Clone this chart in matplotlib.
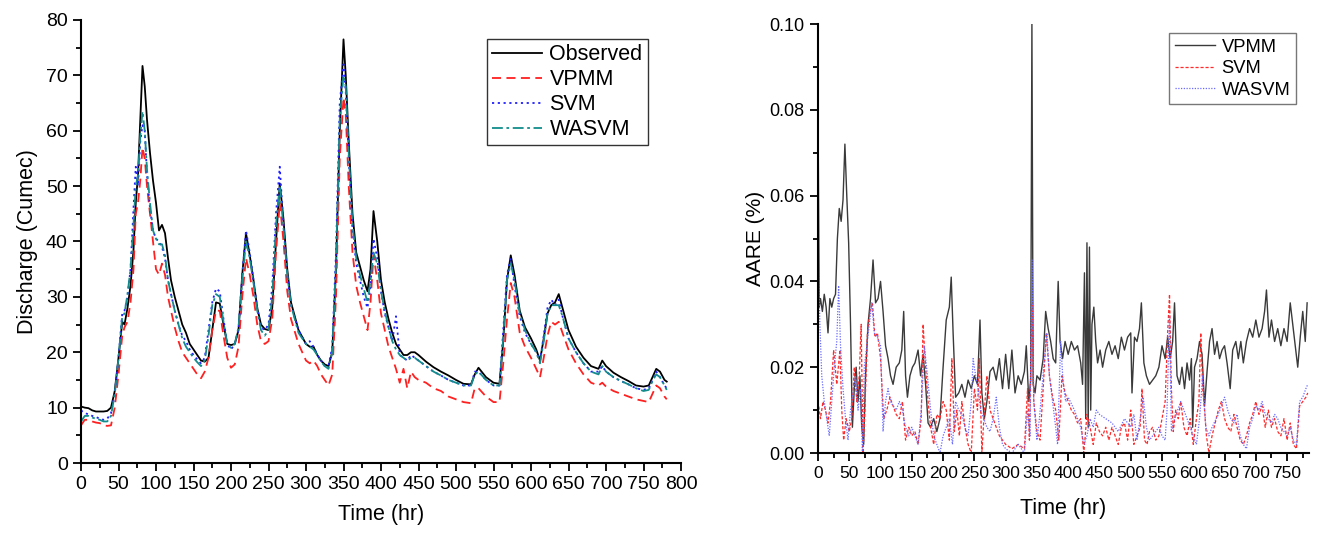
import numpy as np
import matplotlib
matplotlib.use("Agg")
import matplotlib.pyplot as plt
from matplotlib.ticker import MultipleLocator

plt.rcParams['font.family'] = ['Liberation Sans', 'DejaVu Sans']

# ---- left panel: discharge ----
t_left = [0, 5, 10, 15, 20, 25, 30, 35, 40, 45,
          50, 55, 58, 62, 66, 70, 73, 76, 79, 82,
          85, 88, 92, 96, 100, 104, 108, 112, 116, 120,
          125, 130, 135, 140, 145, 150, 155, 160, 165, 170,
          175, 180, 185, 190, 195, 200, 205, 210, 215, 220,
          225, 230, 235, 240, 245, 250, 255, 260, 265, 270,
          275, 280, 290, 300, 305, 310, 315, 320, 325, 330,
          335, 340, 345, 350, 353, 357, 362, 367, 372, 377,
          382, 386, 390, 395, 400, 405, 410, 415, 420, 425,
          430, 435, 440, 445, 450, 460, 470, 480, 490, 500,
          510, 520, 525, 530, 540, 550, 558, 563, 568, 573,
          578, 585, 592, 600, 607, 612, 617, 622, 627, 632,
          637, 642, 650, 660, 670, 680, 690, 695, 700, 710,
          720, 730, 740, 750, 757, 762, 767, 772, 778, 781]

observed = [10.2, 10.0, 9.9, 9.5, 9.3, 9.3, 9.3, 9.4, 10.0, 13.0,
            19.0, 25.5, 25.0, 28.0, 32.0, 38.5, 47.0, 52.0, 62.0, 71.7,
            68.0, 62.0, 56.0, 51.0, 47.0, 42.0, 43.0, 41.5, 37.0, 33.0,
            30.0, 27.5, 25.0, 23.5, 21.5, 20.5, 19.5, 18.5, 18.3, 19.0,
            24.0, 29.0, 28.8, 25.0, 21.5, 21.3, 21.5, 24.0, 34.0, 41.5,
            37.5, 33.0, 28.0, 25.0, 24.2, 24.0, 28.0, 40.0, 50.5, 44.0,
            35.0, 29.0, 24.0, 21.5, 21.0, 21.0, 19.5, 18.5, 17.8, 17.5,
            20.0, 35.0, 60.0, 76.5, 70.0, 58.0, 45.0, 38.0, 35.5, 33.0,
            31.0, 35.0, 45.5, 40.0, 33.0, 29.0, 26.0, 23.5, 21.5, 20.5,
            19.5, 19.5, 20.0, 20.0, 19.5, 18.3, 17.3, 16.5, 15.8, 15.0,
            14.3, 14.2, 16.0, 17.2, 15.5, 14.5, 14.3, 22.0, 33.0, 37.5,
            34.0, 27.5, 24.5, 22.5, 20.5, 18.5, 22.5, 27.0, 28.5, 29.0,
            30.5, 28.0, 24.0, 21.0, 19.0, 17.5, 17.0, 18.5, 17.5, 16.3,
            15.5, 14.8, 14.0, 13.8, 14.0, 15.5, 17.0, 16.5, 15.0, 14.7]

vpmm = [6.8, 7.8, 7.8, 7.5, 7.3, 7.2, 6.8, 6.7, 6.8, 10.0,
        16.0, 23.0, 24.5, 25.5, 29.0, 35.0, 45.0, 47.0, 51.0, 57.0,
        55.0, 50.0, 45.0, 40.0, 35.0, 34.0, 36.0, 34.0, 30.0, 27.5,
        24.5, 22.0, 20.0, 19.0, 18.0, 17.0, 16.0, 15.3, 16.5, 19.0,
        24.0, 27.5, 27.5, 23.0, 19.0, 17.2, 17.8, 21.0, 30.0, 37.0,
        34.0, 30.0, 25.0, 22.0, 21.5, 22.0, 26.0, 38.0, 47.0, 40.0,
        31.0, 26.0, 21.5, 18.5, 18.0, 18.5, 17.5, 16.0, 15.0, 14.0,
        16.0, 30.0, 55.0, 66.0, 63.0, 50.0, 38.0, 32.0, 29.0, 26.5,
        24.0, 29.0, 37.5, 33.0, 27.0, 24.0, 21.0, 19.0, 17.0, 14.5,
        17.0, 13.5, 16.5, 15.5, 15.0, 14.5, 13.5, 13.0, 12.0, 11.5,
        11.0, 10.8, 13.5, 13.5, 12.0, 11.0, 11.0, 18.0, 26.0, 32.5,
        30.0, 23.5, 21.0, 19.0, 17.0, 15.5, 19.0, 23.0, 25.5, 25.0,
        25.5, 23.5, 20.5, 18.0, 16.0, 14.5, 14.0, 14.5, 13.8, 13.0,
        12.5, 12.0, 11.5, 11.2, 11.0, 12.5, 14.0, 13.5, 12.0, 11.5]

svm = [9.5, 9.0, 8.8, 8.5, 8.3, 8.0, 7.8, 8.0, 9.0, 12.5,
       19.0, 27.0, 27.5, 30.0, 35.0, 46.0, 53.5, 50.0, 58.0, 61.0,
       60.0, 52.0, 46.0, 42.0, 40.5, 40.0, 39.0, 37.0, 33.0, 30.5,
       27.5, 25.0, 23.0, 22.0, 20.5, 19.5, 18.7, 18.0, 19.0, 24.0,
       29.0, 31.5, 31.0, 26.0, 21.5, 20.5, 21.5, 24.0, 34.0, 42.0,
       38.0, 33.0, 28.0, 24.5, 24.0, 25.0, 32.0, 45.0, 53.5, 43.0,
       34.0, 28.5, 24.0, 21.5, 22.0, 21.0, 19.5, 18.5, 17.5, 17.5,
       21.0, 38.0, 65.0, 72.0, 67.0, 55.0, 42.0, 36.0, 33.0, 30.0,
       28.0, 32.0, 40.5, 37.0, 31.0, 27.0, 24.5, 22.0, 26.5, 19.5,
       19.0, 18.5, 19.5, 19.0, 18.5, 17.5, 16.5, 15.8, 15.0, 14.5,
       14.0, 14.0, 16.5, 16.5, 15.0, 14.0, 14.0, 24.0, 34.0, 37.0,
       32.0, 26.5, 23.5, 21.5, 20.0, 18.5, 23.0, 28.0, 29.5, 28.5,
       29.5, 26.5, 22.5, 20.0, 18.0, 16.5, 16.5, 17.5, 16.5, 15.5,
       14.8, 14.2, 13.5, 13.2, 13.5, 15.0, 16.5, 15.5, 14.0, 13.5]

wasvm = [7.5, 8.5, 8.5, 8.2, 8.0, 7.8, 7.5, 7.5, 8.5, 12.5,
         19.0, 26.5, 27.0, 30.5, 35.0, 43.0, 50.0, 52.0, 59.0, 63.5,
         60.0, 53.0, 47.0, 42.0, 40.5, 39.5, 39.5, 37.5, 33.0, 30.5,
         27.5, 25.0, 22.5, 21.0, 20.0, 19.0, 18.2, 17.5, 18.5, 23.0,
         28.5, 30.5, 30.0, 25.5, 21.5, 20.8, 21.5, 24.5, 33.0, 40.0,
         37.0, 32.5, 27.5, 24.0, 23.0, 24.0, 30.0, 43.0, 50.0, 42.5,
         34.0, 28.5, 23.5, 21.5, 21.0, 20.5, 19.5, 18.3, 17.5, 17.0,
         20.0, 36.0, 62.0, 70.0, 68.0, 56.0, 43.0, 37.0, 34.0, 31.5,
         29.0, 33.0, 38.0, 36.0, 31.0, 27.5, 24.5, 22.0, 20.5, 19.5,
         19.0, 18.5, 19.0, 19.0, 18.5, 17.5, 16.5, 15.8, 15.0, 14.5,
         14.0, 14.0, 16.0, 16.5, 15.0, 14.0, 14.0, 22.5, 33.0, 36.0,
         33.0, 27.0, 24.0, 21.5, 20.0, 18.0, 22.0, 27.0, 28.5, 28.5,
         28.5, 26.5, 22.5, 20.0, 18.0, 16.5, 16.0, 17.5, 16.5, 15.5,
         14.8, 14.2, 13.5, 13.0, 13.2, 14.8, 16.0, 15.5, 14.0, 13.2]

# ---- right panel: AARE ----
t_vp = [0, 2, 4, 7, 10, 13, 16, 19, 22, 25,
        28, 31, 34, 37, 40, 43, 46, 49, 52, 55,
        58, 61, 64, 67, 70, 73, 76, 80, 84, 88,
        92, 96, 100, 104, 108, 112, 116, 120, 125, 130,
        134, 137, 140, 143, 147, 151, 155, 160, 164, 168,
        172, 176, 180, 185, 190, 195, 200, 205, 210, 213,
        216, 220, 225, 230, 235, 240, 245, 250, 255, 259,
        262, 266, 270, 275, 280, 285, 290, 295, 300, 305,
        310, 315, 320, 325, 330, 333, 337, 340, 342, 344,
        347, 350, 355, 360, 364, 368, 372, 376, 380, 384,
        387, 391, 395, 400, 405, 410, 415, 420, 423, 426,
        428, 430, 432, 434, 436, 438, 441, 444, 447, 451,
        455, 460, 465, 470, 475, 480, 485, 490, 495, 500,
        502, 506, 510, 514, 517, 521, 525, 530, 535, 540,
        545, 550, 555, 559, 563, 567, 570, 574, 578, 582,
        586, 590, 594, 597, 599, 602, 606, 610, 614, 618,
        622, 626, 630, 634, 638, 642, 646, 650, 654, 659,
        663, 668, 672, 676, 680, 685, 690, 695, 700, 705,
        710, 714, 717, 721, 725, 730, 735, 740, 745, 750,
        755, 759, 763, 767, 771, 775, 779, 782]
aare_vpmm = [0.080, 0.034, 0.036, 0.033, 0.037, 0.034, 0.028, 0.036, 0.034, 0.036,
             0.037, 0.050, 0.057, 0.054, 0.059, 0.072, 0.060, 0.049, 0.030, 0.006,
             0.015, 0.020, 0.012, 0.018, 0.006, 0.002, 0.018, 0.030, 0.036, 0.045,
             0.035, 0.036, 0.040, 0.033, 0.025, 0.022, 0.018, 0.016, 0.020, 0.021,
             0.024, 0.033, 0.018, 0.013, 0.018, 0.020, 0.021, 0.024, 0.018, 0.023,
             0.016, 0.007, 0.006, 0.008, 0.005, 0.008, 0.020, 0.031, 0.034, 0.041,
             0.028, 0.013, 0.014, 0.016, 0.013, 0.017, 0.015, 0.018, 0.016, 0.031,
             0.014, 0.008, 0.012, 0.019, 0.020, 0.017, 0.022, 0.015, 0.023, 0.015,
             0.024, 0.014, 0.018, 0.016, 0.019, 0.025, 0.012, 0.017, 0.100, 0.016,
             0.014, 0.018, 0.017, 0.022, 0.033, 0.029, 0.026, 0.022, 0.021, 0.040,
             0.026, 0.022, 0.026, 0.023, 0.026, 0.024, 0.025, 0.021, 0.016, 0.042,
             0.008, 0.049, 0.006, 0.048, 0.010, 0.030, 0.034, 0.026, 0.021, 0.024,
             0.020, 0.024, 0.026, 0.023, 0.025, 0.022, 0.027, 0.024, 0.027, 0.028,
             0.014, 0.027, 0.026, 0.029, 0.035, 0.021, 0.018, 0.016, 0.017, 0.018,
             0.020, 0.025, 0.022, 0.027, 0.022, 0.026, 0.035, 0.018, 0.016, 0.020,
             0.015, 0.021, 0.017, 0.022, 0.006, 0.020, 0.022, 0.026, 0.023, 0.011,
             0.019, 0.026, 0.029, 0.023, 0.026, 0.022, 0.024, 0.025, 0.021, 0.015,
             0.024, 0.026, 0.022, 0.026, 0.021, 0.026, 0.029, 0.027, 0.031, 0.027,
             0.029, 0.033, 0.038, 0.027, 0.031, 0.026, 0.029, 0.025, 0.029, 0.026,
             0.035, 0.030, 0.025, 0.020, 0.027, 0.033, 0.026, 0.035]

t_sv = [0, 4, 8, 12, 16, 20, 25, 30, 35, 38,
        41, 45, 50, 54, 58, 62, 66, 69, 72, 75,
        79, 83, 87, 91, 95, 100, 105, 110, 115, 120,
        125, 130, 135, 140, 145, 150, 155, 160, 165, 168,
        172, 176, 180, 185, 190, 195, 200, 205, 210, 214,
        218, 222, 226, 230, 235, 240, 245, 250, 255, 258,
        262, 266, 270, 275, 280, 285, 290, 295, 300, 310,
        320, 330, 335, 338, 342, 345, 350, 355, 360, 365,
        370, 375, 380, 385, 390, 395, 400, 405, 410, 415,
        420, 425, 430, 435, 440, 445, 450, 455, 460, 465,
        470, 475, 480, 485, 490, 495, 500, 505, 510, 515,
        518, 522, 526, 530, 535, 540, 545, 550, 555, 559,
        562, 565, 568, 572, 576, 580, 585, 590, 595, 600,
        605, 609, 612, 615, 618, 621, 625, 630, 635, 640,
        645, 650, 655, 660, 665, 670, 675, 680, 685, 690,
        695, 700, 705, 710, 715, 720, 725, 730, 735, 740,
        745, 750, 755, 760, 765, 770, 775, 780, 783]
aare_svm = [0.012, 0.008, 0.012, 0.010, 0.007, 0.012, 0.024, 0.016, 0.024, 0.010,
            0.003, 0.008, 0.005, 0.008, 0.020, 0.012, 0.018, 0.030, 0.000, 0.010,
            0.028, 0.033, 0.035, 0.027, 0.028, 0.022, 0.008, 0.010, 0.013, 0.011,
            0.009, 0.008, 0.012, 0.003, 0.006, 0.004, 0.005, 0.002, 0.008, 0.030,
            0.020, 0.012, 0.006, 0.002, 0.009, 0.008, 0.012, 0.010, 0.003, 0.022,
            0.005, 0.010, 0.004, 0.012, 0.006, 0.002, 0.000, 0.015, 0.010, 0.022,
            0.000, 0.010, 0.018, 0.010, 0.008, 0.006, 0.004, 0.003, 0.002, 0.001,
            0.002, 0.001, 0.015, 0.003, 0.035, 0.012, 0.005, 0.003, 0.015, 0.028,
            0.018, 0.013, 0.010, 0.003, 0.018, 0.014, 0.012, 0.010, 0.009, 0.007,
            0.008, 0.000, 0.009, 0.006, 0.002, 0.007, 0.005, 0.004, 0.006, 0.003,
            0.006, 0.004, 0.002, 0.006, 0.007, 0.003, 0.010, 0.002, 0.004, 0.006,
            0.015, 0.003, 0.002, 0.005, 0.006, 0.003, 0.004, 0.008, 0.012, 0.028,
            0.037, 0.015, 0.005, 0.010, 0.008, 0.012, 0.006, 0.004, 0.008, 0.002,
            0.008, 0.012, 0.028, 0.015, 0.010, 0.004, 0.000, 0.004, 0.007, 0.010,
            0.012, 0.008, 0.006, 0.005, 0.009, 0.006, 0.003, 0.002, 0.004, 0.007,
            0.009, 0.012, 0.009, 0.011, 0.006, 0.010, 0.006, 0.008, 0.005, 0.004,
            0.008, 0.003, 0.007, 0.002, 0.001, 0.011, 0.012, 0.013, 0.014]

t_wa = [0, 3, 6, 10, 14, 18, 22, 26, 30, 33,
        36, 40, 44, 48, 52, 56, 60, 64, 68, 71,
        74, 78, 82, 86, 90, 95, 100, 104, 108, 112,
        116, 120, 125, 130, 135, 140, 145, 150, 155, 160,
        165, 170, 175, 180, 185, 190, 195, 200, 205, 210,
        215, 220, 225, 230, 235, 240, 245, 248, 252, 256,
        260, 265, 270, 275, 280, 285, 290, 295, 300, 310,
        320, 330, 335, 339, 342, 345, 350, 354, 358, 362,
        366, 370, 375, 380, 383, 388, 392, 396, 400, 410,
        420, 425, 430, 435, 440, 445, 450, 460, 470, 480,
        490, 500, 505, 510, 515, 520, 525, 530, 540, 545,
        550, 555, 558, 562, 565, 570, 575, 580, 585, 590,
        595, 600, 605, 610, 615, 620, 625, 630, 640, 650,
        655, 660, 665, 670, 675, 680, 685, 690, 695, 700,
        705, 710, 715, 720, 725, 730, 735, 740, 745, 750,
        755, 760, 765, 770, 775, 780, 783]
aare_wasvm = [0.050, 0.030, 0.018, 0.012, 0.008, 0.004, 0.012, 0.020, 0.026, 0.039,
              0.025, 0.015, 0.008, 0.003, 0.010, 0.014, 0.018, 0.010, 0.015, 0.000,
              0.020, 0.025, 0.030, 0.035, 0.028, 0.027, 0.025, 0.005, 0.012, 0.015,
              0.012, 0.011, 0.010, 0.012, 0.010, 0.006, 0.004, 0.006, 0.004, 0.002,
              0.010, 0.025, 0.018, 0.010, 0.004, 0.002, 0.000, 0.004, 0.006, 0.008,
              0.002, 0.012, 0.010, 0.009, 0.006, 0.004, 0.012, 0.022, 0.018, 0.015,
              0.010, 0.008, 0.006, 0.005, 0.008, 0.013, 0.006, 0.002, 0.001, 0.000,
              0.002, 0.000, 0.010, 0.004, 0.045, 0.012, 0.003, 0.008, 0.015, 0.022,
              0.028, 0.018, 0.012, 0.006, 0.002, 0.026, 0.016, 0.012, 0.013, 0.010,
              0.006, 0.002, 0.004, 0.008, 0.006, 0.010, 0.009, 0.008, 0.007, 0.005,
              0.008, 0.006, 0.009, 0.003, 0.008, 0.013, 0.006, 0.003, 0.005, 0.006,
              0.004, 0.003, 0.010, 0.032, 0.005, 0.008, 0.010, 0.012, 0.010, 0.008,
              0.006, 0.004, 0.002, 0.008, 0.018, 0.006, 0.004, 0.006, 0.009, 0.013,
              0.010, 0.008, 0.007, 0.009, 0.004, 0.002, 0.001, 0.006, 0.008, 0.011,
              0.010, 0.012, 0.009, 0.008, 0.007, 0.009, 0.008, 0.006, 0.005, 0.004,
              0.006, 0.003, 0.002, 0.012, 0.013, 0.015, 0.016]


def style_axes(ax, fs):
    ax.spines['top'].set_visible(False)
    ax.spines['right'].set_visible(False)
    ax.spines['left'].set_linewidth(1.5)
    ax.spines['bottom'].set_linewidth(1.5)
    ax.tick_params(which='major', direction='out', length=6, width=1.3, labelsize=fs)
    ax.tick_params(which='minor', direction='out', length=3.5, width=1.3)


fig = plt.figure(figsize=(13.2, 5.34), dpi=100)

ax1 = fig.add_axes([81 / 1320, 1 - 463 / 534, 600 / 1320, 443 / 534])
ax1.plot(t_left, observed, color='black', lw=1.3, label='Observed')
ax1.plot(t_left, vpmm, color='#ff2020', lw=1.3, ls=(0, (5, 3)), label='VPMM')
ax1.plot(t_left, svm, color='#2020ff', lw=1.3, ls=(0, (1.2, 2)), label='SVM')
ax1.plot(t_left, wasvm, color='#148c8c', lw=1.3, ls=(0, (6, 2, 1.5, 2)), label='WASVM')
ax1.set_xlim(0, 800)
ax1.set_ylim(0, 80)
ax1.xaxis.set_major_locator(MultipleLocator(50))
ax1.xaxis.set_minor_locator(MultipleLocator(25))
ax1.yaxis.set_major_locator(MultipleLocator(10))
ax1.yaxis.set_minor_locator(MultipleLocator(5))
style_axes(ax1, 14)
ax1.set_xlabel('Time (hr)', fontsize=15.5, labelpad=8)
ax1.set_ylabel('Discharge (Cumec)', fontsize=15.5, labelpad=6)
leg1 = ax1.legend(loc='upper right', bbox_to_anchor=(0.945, 0.957), fontsize=15.5,
                  frameon=True, fancybox=False, edgecolor='black', handlelength=2.3,
                  borderpad=0.25, labelspacing=0.18, handletextpad=0.35,
                  borderaxespad=0)
leg1.get_frame().set_linewidth(1.0)

ax2 = fig.add_axes([818 / 1320, 1 - 453 / 534, 491 / 1320, 429 / 534])
ax2.plot(t_vp, aare_vpmm, color='#3a3a3a', lw=1.0, label='VPMM')
ax2.plot(t_sv, aare_svm, color='#ff2a2a', lw=0.9, ls=(0, (2.5, 1.5)), label='SVM')
ax2.plot(t_wa, aare_wasvm, color='#6a6aff', lw=0.9, ls=(0, (1, 1.2)), label='WASVM')
ax2.set_xlim(0, 785)
ax2.set_ylim(0, 0.10)
ax2.xaxis.set_major_locator(MultipleLocator(50))
ax2.xaxis.set_minor_locator(MultipleLocator(25))
ax2.yaxis.set_major_locator(MultipleLocator(0.02))
ax2.yaxis.set_minor_locator(MultipleLocator(0.01))
ax2.yaxis.set_major_formatter(plt.FormatStrFormatter('%.2f'))
style_axes(ax2, 12.5)
ax2.tick_params(axis='y', labelsize=13)
ax2.set_xlabel('Time (hr)', fontsize=15.5, labelpad=12)
ax2.set_ylabel('AARE (%)', fontsize=15, labelpad=3)
leg2 = ax2.legend(loc='upper right', bbox_to_anchor=(0.973, 0.979), fontsize=13.2,
                  frameon=True, fancybox=False, edgecolor='#555555', handlelength=2.2,
                  borderpad=0.3, labelspacing=0.25, handletextpad=0.35,
                  borderaxespad=0)
leg2.get_frame().set_linewidth(1.0)

fig.savefig('out.png', dpi=100)
